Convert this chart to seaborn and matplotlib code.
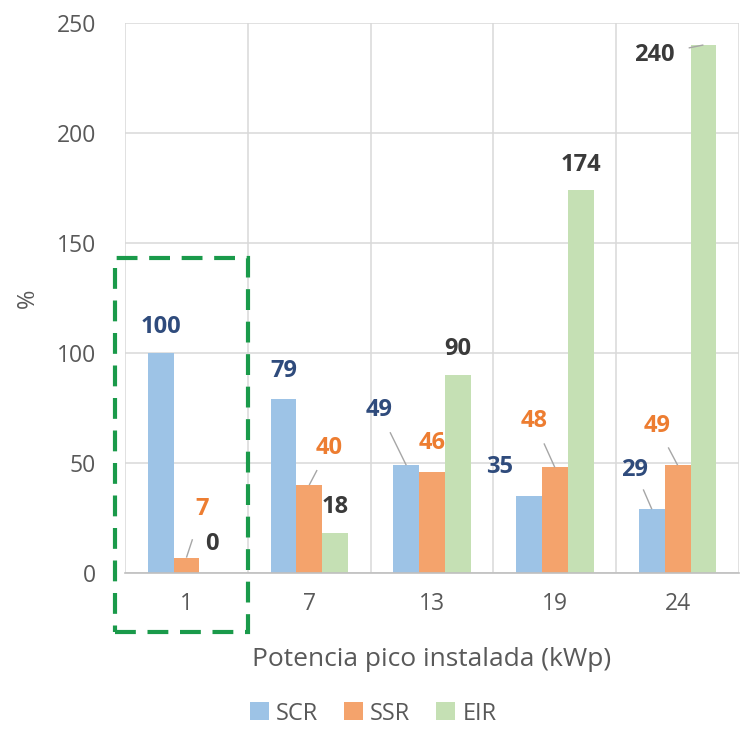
import matplotlib
matplotlib.use("Agg")
import matplotlib.pyplot as plt
from matplotlib.patches import Rectangle
import seaborn as sns
import pandas as pd

# Installed peak power per scenario (kWp)
categories = ["1", "7", "13", "19", "24"]
series = ["SCR", "SSR", "EIR"]
scr = [100, 79, 49, 35, 29]
ssr = [7, 40, 46, 48, 49]
eir = [0, 18, 90, 174, 240]
y_ticks = [0, 50, 100, 150, 200, 250]

colors = {"SCR": "#9DC3E6", "SSR": "#F4A36C", "EIR": "#C5E0B4"}
label_colors = {"SCR": "#2F4B7C", "SSR": "#ED7D31", "EIR": "#3A3A3A"}

df = pd.DataFrame({
    "kWp": categories * 3,
    "serie": sum([[s] * len(categories) for s in series], []),
    "valor": scr + ssr + eir,
})

sns.set_theme(style="white")
plt.rcParams["font.family"] = ["Open Sans", "DejaVu Sans"]

fig = plt.figure(figsize=(7.42, 7.41), dpi=100)
ax = fig.add_axes([0.1685, 0.2267, 0.8275, 0.7423])

sns.barplot(data=df, x="kWp", y="valor", hue="serie", order=categories,
            hue_order=series, palette=colors, width=0.63, saturation=1,
            linewidth=0, edgecolor="none", ax=ax, legend=True)

ax.set_ylim(0, 250)
ax.set_xlim(-0.5, 4.5)
ax.set_yticks(y_ticks)
ax.set_xticks(range(len(categories)), categories)
ax.set_xticks([i - 0.5 for i in range(len(categories) + 1)], minor=True)
ax.grid(axis="y", which="major", color="#D9D9D9", linewidth=1.1)
ax.grid(axis="x", which="minor", color="#D9D9D9", linewidth=1.1)
ax.grid(axis="x", which="major", visible=False)
ax.set_axisbelow(True)
for side in ["left", "right", "top"]:
    ax.spines[side].set_visible(False)
ax.spines["bottom"].set_color("#BFBFBF")
ax.spines["bottom"].set_linewidth(1.2)
ax.tick_params(axis="both", which="both", length=0, labelsize=16.5,
               labelcolor="#595959")
ax.tick_params(axis="y", pad=21)
ax.tick_params(axis="x", pad=14)
ax.set_xlabel("Potencia pico instalada (kWp)", fontsize=19, color="#595959",
              labelpad=22)
ax.set_ylabel("%", fontsize=17, color="#595959", labelpad=12)

# Data labels: text offset (dx, dy) in data units, and the fraction of the
# way from bar top to label covered by a leader line (0 = no leader)
offsets = {
    "SCR": [(0.0, 12, 0), (0.0, 13, 0), (-0.22, 25, 0.6),
            (-0.24, 13, 0), (-0.14, 18, 0.5)],
    "SSR": [(0.13, 22, 0.38), (0.16, 17, 0.4), (0.0, 13, 0),
            (-0.17, 21, 0.52), (-0.17, 18, 0.45)],
    "EIR": [(0.0, 13, 0), (0.0, 12, 0), (0.0, 12, 0),
            (0.0, 11.5, 0), (-0.4, -4.5, 0.3)],
}
bar_w = 0.21
series_vals = {"SCR": scr, "SSR": ssr, "EIR": eir}
for j, s in enumerate(series):
    for i, v in enumerate(series_vals[s]):
        bx = i + (j - 1) * bar_w
        dx, dy, frac = offsets[s][i]
        tx, ty = bx + dx, v + dy
        ax.text(tx, ty, f"{v}", ha="center", va="center", fontsize=17,
                fontweight="bold", color=label_colors[s])
        if frac:
            ax.plot([bx, bx + (tx - bx) * frac], [v, v + (ty - v) * frac],
                    color="#A6A6A6", linewidth=1.0, solid_capstyle="butt")

# Dashed frame highlighting the 1 kWp case
ax.add_patch(Rectangle((-0.58, -27), 1.08, 170, fill=False,
                       edgecolor="#1A9A4A", linewidth=3.0,
                       linestyle=(0, (5, 2.8)), clip_on=False, zorder=5))

leg = ax.legend(loc="center", bbox_to_anchor=(0.503, 0.037),
                bbox_transform=fig.transFigure, ncol=3, frameon=False,
                fontsize=17, handlelength=0.8, handleheight=0.8,
                handletextpad=0.3, columnspacing=1.1)
for t in leg.get_texts():
    t.set_color("#595959")

fig.savefig("out.png", dpi=100)
